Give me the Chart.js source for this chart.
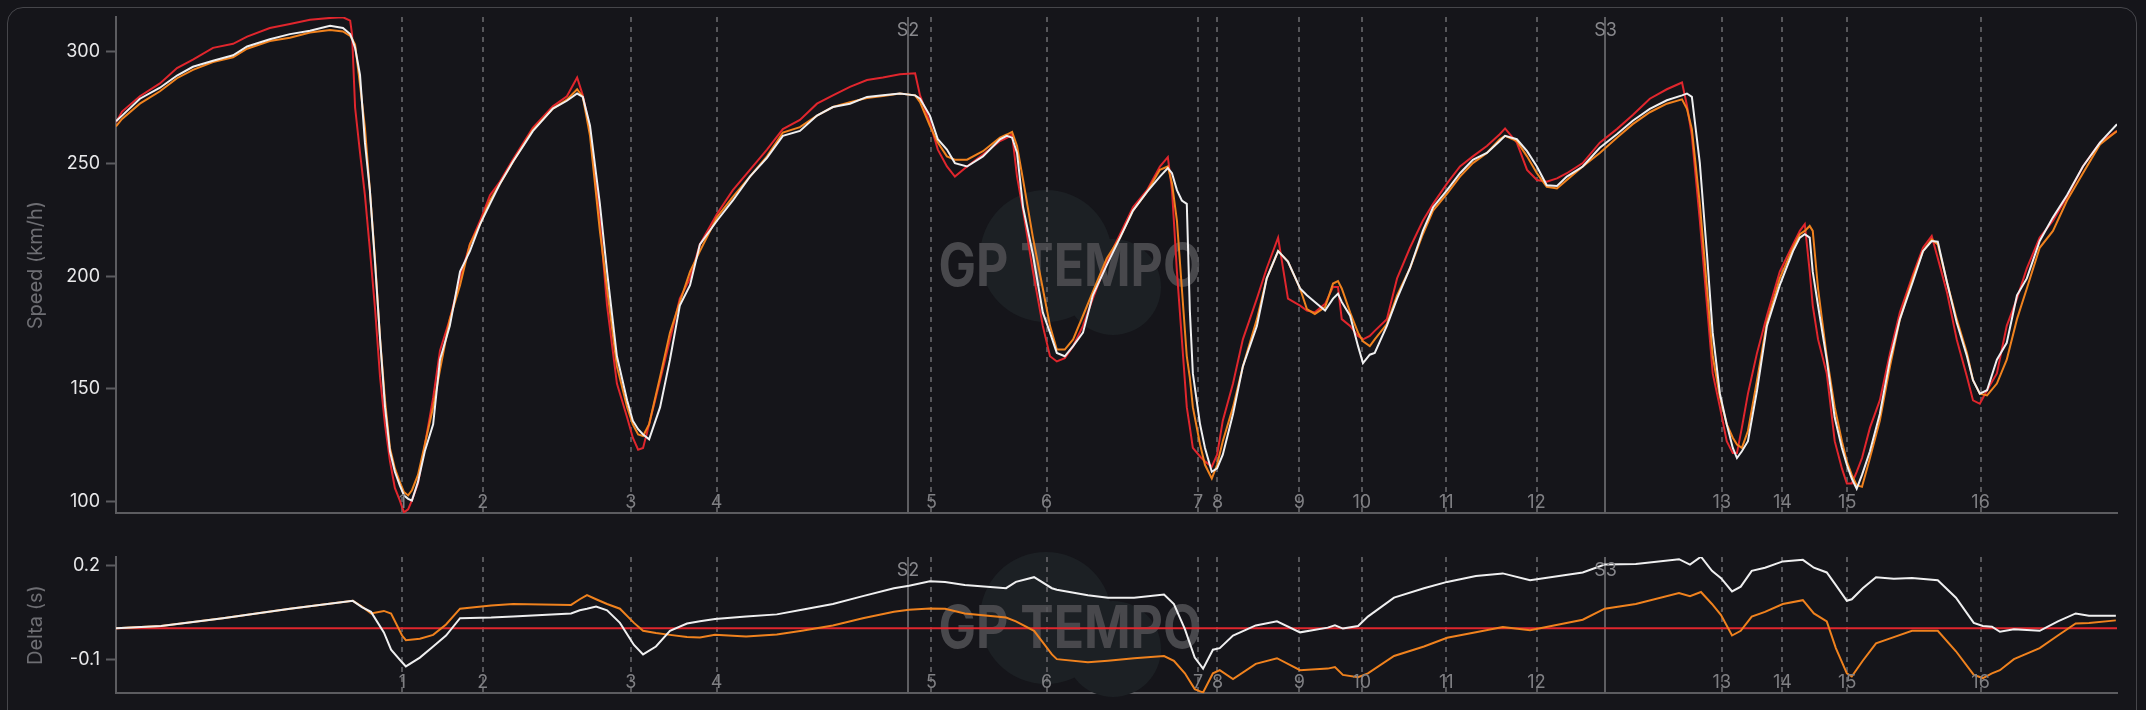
<!DOCTYPE html>
<html><head><meta charset="utf-8">
<script src="https://cdn.jsdelivr.net/npm/chart.js@4.4.1/dist/chart.umd.min.js"></script>
<style>
html,body{margin:0;padding:0;background:#15151a;}
#wrap{position:relative;width:2146px;height:710px;overflow:hidden;background:#15151a;}
#panel{position:absolute;left:7px;top:7px;width:2130px;height:760px;border:1px solid #46464b;border-radius:16px;box-sizing:border-box;}
#c1{position:absolute;left:0;top:0;}
#c2{position:absolute;left:0;top:540px;}
</style></head><body>
<div id="wrap"><div id="panel"></div>
<canvas id="c1" width="2146" height="530"></canvas>
<canvas id="c2" width="2146" height="170"></canvas>
</div>
<script>
const trackLength = 5281;
const speedDistance = [0,16,63,116,161,203,256,309,346,406,459,512,565,599,618,623,631,644,657,670,684,697,710,723,736,749,760,771,781,797,815,837,855,881,908,934,961,987,1013,1048,1100,1153,1190,1217,1232,1251,1277,1296,1322,1349,1364,1378,1391,1407,1436,1462,1488,1515,1541,1586,1628,1673,1718,1760,1805,1850,1892,1937,1982,2024,2069,2109,2122,2148,2169,2193,2214,2246,2288,2333,2351,2365,2378,2394,2420,2446,2465,2483,2504,2526,2552,2578,2615,2650,2684,2721,2755,2776,2787,2800,2813,2826,2834,2842,2861,2874,2892,2906,2921,2948,2974,3011,3037,3067,3093,3125,3143,3164,3191,3212,3225,3235,3257,3278,3291,3309,3322,3354,3381,3415,3449,3476,3513,3547,3581,3618,3652,3666,3697,3724,3750,3776,3803,3829,3871,3916,3961,4003,4048,4093,4133,4146,4159,4180,4199,4214,4233,4251,4267,4278,4291,4307,4331,4357,4391,4426,4444,4457,4470,4478,4492,4515,4536,4555,4568,4581,4594,4608,4629,4655,4682,4708,4742,4769,4792,4808,4832,4858,4885,4901,4919,4938,4964,4990,5017,5043,5077,5112,5149,5191,5236,5281];
const speedRed = [268.4,273.2,280.0,285.7,292.5,296.3,301.5,303.3,306.5,310.3,312.1,314.0,314.8,315.1,313.6,307.5,275.0,255.0,236.0,212.0,185.0,155.0,134.0,118.0,106.0,100.5,95.2,96.5,100.5,108.0,125.0,146.0,167.0,181.0,199.1,214.2,224.7,236.0,242.0,252.0,266.0,275.5,280.0,288.3,280.4,265.4,224.7,187.0,152.4,137.3,128.3,123.0,123.8,134.3,153.9,172.0,190.1,199.1,214.2,227.7,238.3,247.3,256.3,265.4,269.5,276.7,280.4,284.2,287.2,288.3,289.8,290.2,280.4,268.4,256.3,248.8,244.3,248.8,254.1,260.1,261.5,263.1,244.3,229.2,202.1,178.0,164.5,162.2,163.7,169.0,178.0,190.1,206.6,218.7,230.7,238.3,248.8,253.0,238.3,202.1,172.0,141.9,133.0,123.8,120.0,117.8,115.5,120.8,135.9,152.4,172.0,190.1,203.6,217.2,190.1,187.0,184.8,184.0,187.8,195.3,195.3,181.0,178.0,173.5,172.0,173.5,175.8,181.0,199.1,212.7,224.7,232.2,241.3,248.8,253.3,257.9,263.1,265.7,259.4,247.3,242.8,242.0,243.5,245.8,250.3,259.4,265.4,271.7,278.9,283.1,286.1,275.9,262.4,224.7,187.0,156.9,141.9,126.8,121.5,121.5,132.8,147.9,166.0,182.5,202.1,214.2,220.2,223.2,202.1,187.0,172.0,156.9,126.8,114.7,108.0,108.0,113.2,119.3,132.8,144.9,166.0,184.0,200.6,212.7,217.9,208.1,193.1,172.0,155.4,144.9,143.4,149.4,156.9,178.0,190.1,203.6,217.2,224.7,235.3,248.8,259.4,264.6];
const speedOrange = [266.6,269.9,276.7,282.2,288.0,291.7,295.2,297.3,301.1,304.5,306.0,308.3,309.4,308.8,306.8,305.5,303.0,285.0,266.0,238.3,206.6,172.0,144.9,123.8,114.7,108.7,104.2,102.7,105.0,111.8,125.3,141.9,158.4,181.0,196.1,214.2,223.2,233.7,241.0,251.0,265.0,274.5,278.5,283.1,279.7,262.4,220.2,194.6,160.0,141.9,134.3,129.8,129.1,134.3,155.4,175.0,188.6,202.1,211.2,226.2,235.3,244.3,253.3,263.9,266.3,271.4,275.2,277.4,279.2,280.1,281.2,280.4,277.4,266.9,259.4,253.3,251.8,251.8,255.6,261.6,263.0,264.2,257.9,242.8,217.2,194.6,178.0,167.5,167.5,172.0,182.5,193.1,208.1,217.2,229.2,237.5,247.3,248.8,241.3,224.7,194.6,164.5,155.0,141.9,125.3,116.3,110.2,116.3,126.8,141.9,160.0,181.0,199.1,211.2,206.6,194.6,185.5,183.3,186.3,196.8,197.9,194.6,184.0,175.0,171.2,169.0,172.0,178.8,191.6,203.6,218.7,229.2,236.8,244.3,250.3,254.8,260.9,262.4,260.1,253.3,245.8,239.8,239.0,242.8,248.8,254.8,261.6,267.6,272.9,276.7,278.6,274.4,265.4,232.2,194.6,164.5,146.4,134.3,128.3,125.3,123.8,131.3,153.9,179.5,199.1,212.7,218.7,220.2,222.4,220.2,194.6,164.5,141.9,126.8,117.8,111.8,107.2,106.5,119.3,135.9,160.0,181.0,199.1,211.2,216.4,214.2,197.6,181.0,166.0,153.9,147.9,147.1,152.4,163.0,181.0,194.6,212.7,220.2,233.7,245.8,258.6,264.6];
const speedWhite = [268.9,271.4,278.9,283.8,289.2,293.1,295.8,298.2,302.1,305.3,307.6,309.1,311.3,310.3,307.6,305.5,301.5,289.5,259.4,238.3,205.1,172.0,141.9,122.3,113.2,107.2,102.7,101.2,100.4,108.7,122.3,134.3,163.0,178.0,202.1,211.2,223.2,232.2,241.0,251.0,264.5,274.5,278.0,281.2,279.7,266.9,232.2,202.1,164.5,144.9,135.9,132.1,129.8,127.6,141.9,163.0,187.0,196.1,214.2,224.7,233.7,244.3,252.6,262.4,264.6,271.4,275.2,276.7,279.7,280.4,281.2,280.4,278.9,271.4,260.9,256.3,250.3,248.8,253.3,260.9,262.4,261.6,254.8,230.7,209.6,184.0,175.0,166.0,164.5,169.0,175.0,191.6,205.1,217.2,229.2,237.5,244.3,248.1,245.8,238.3,233.7,232.2,185.0,156.9,134.3,123.8,113.2,114.7,120.8,138.9,160.0,178.0,199.1,211.2,206.6,194.6,191.6,188.6,184.8,190.1,192.3,188.6,182.5,169.0,161.5,165.2,166.0,178.0,190.1,203.6,220.2,230.7,238.3,245.8,251.8,254.8,260.1,262.4,260.9,255.6,248.8,240.5,240.1,244.3,248.8,257.1,263.1,269.1,274.4,278.2,280.4,281.2,279.7,250.3,209.6,175.0,147.9,134.3,123.8,119.3,122.3,126.8,149.4,178.0,196.1,211.2,217.2,218.7,217.2,202.1,187.0,163.0,137.3,123.8,116.3,110.2,105.7,111.8,122.3,138.9,163.0,181.0,197.6,211.2,215.7,215.4,197.6,179.5,164.5,153.9,147.9,149.4,163.0,170.5,191.6,199.1,215.7,226.2,236.0,248.8,259.4,267.6];

const deltaDistance = [0,119,282,459,625,649,673,707,726,755,765,802,837,871,908,990,1048,1201,1224,1243,1267,1296,1330,1367,1391,1425,1462,1507,1541,1581,1663,1744,1810,1892,1971,2053,2093,2148,2188,2240,2349,2375,2423,2470,2483,2565,2618,2687,2766,2792,2821,2847,2869,2895,2913,2948,3008,3064,3125,3198,3217,3238,3278,3304,3373,3452,3513,3589,3660,3732,3871,3929,4011,4125,4154,4183,4212,4236,4265,4288,4317,4352,4399,4452,4481,4515,4539,4568,4581,4610,4645,4692,4740,4808,4856,4903,4927,4951,4972,5009,5077,5125,5172,5207,5278];
const deltaWhite = [0,0.007,0.032,0.062,0.087,0.067,0.052,-0.013,-0.068,-0.108,-0.121,-0.093,-0.058,-0.023,0.032,0.034,0.037,0.047,0.057,0.062,0.069,0.057,0.017,-0.053,-0.083,-0.058,-0.008,0.015,0.022,0.029,0.037,0.044,0.059,0.077,0.102,0.127,0.135,0.149,0.147,0.137,0.127,0.147,0.162,0.127,0.122,0.105,0.097,0.097,0.107,0.077,-0.003,-0.093,-0.128,-0.068,-0.063,-0.023,0.009,0.022,-0.013,0.002,0.009,-0.001,0.007,0.037,0.097,0.127,0.147,0.166,0.174,0.152,0.177,0.202,0.204,0.219,0.202,0.227,0.182,0.159,0.117,0.132,0.182,0.192,0.212,0.217,0.192,0.177,0.137,0.087,0.092,0.127,0.162,0.157,0.159,0.152,0.097,0.017,0.007,0.005,-0.011,-0.003,-0.008,0.022,0.047,0.040,0.040];
const deltaOrange = [0,0.007,0.032,0.062,0.087,0.069,0.047,0.055,0.047,-0.023,-0.038,-0.033,-0.021,0.012,0.062,0.072,0.077,0.074,0.092,0.105,0.092,0.077,0.062,0.017,-0.008,-0.015,-0.021,-0.028,-0.029,-0.021,-0.026,-0.020,-0.008,0.009,0.032,0.052,0.059,0.063,0.062,0.047,0.034,0.022,-0.008,-0.083,-0.098,-0.108,-0.103,-0.095,-0.088,-0.103,-0.143,-0.193,-0.204,-0.143,-0.133,-0.161,-0.113,-0.095,-0.133,-0.128,-0.123,-0.148,-0.155,-0.143,-0.088,-0.058,-0.030,-0.013,0.004,-0.006,0.027,0.062,0.077,0.112,0.102,0.115,0.077,0.042,-0.023,-0.008,0.037,0.052,0.077,0.089,0.047,0.022,-0.063,-0.143,-0.153,-0.103,-0.048,-0.028,-0.008,-0.008,-0.073,-0.148,-0.158,-0.143,-0.133,-0.098,-0.063,-0.023,0.015,0.017,0.025];
const referenceDistance = [0, 5281];
const referenceDelta = [0, 0];

const cornerNames = ['1','2','3','4','5','6','7','8','9','10','11','12','13','14','15','16'];
const cornerDistance = [756,968,1359,1585,2152,2456,2856,2907,3123,3288,3511,3749,4238,4398,4569,4921];
const sectorNames = ['S2','S3'];
const sectorDistance = [2090,3931];
const speedTicks = [100,150,200,250,300];
const deltaTicks = [-0.1,0.2];
const speedRange = [94.8, 315.2];
const deltaRange = [-0.206, 0.226];

const pts = (xs, ys) => xs.map((x, i) => ({x, y: ys[i]}));
const FONT = 'Inter, "Noto Sans", sans-serif';

const overlay = {
  id: 'overlay',
  beforeDatasetsDraw(chart) {
    const {ctx, chartArea: a, scales: {x}} = chart;
    ctx.save();
    const cx = chart.width / 2 - 3, cy = chart.height / 2 + (chart.options.plugins.overlay.dy || 0);
    ctx.fillStyle = '#1c2024';
    ctx.beginPath();
    ctx.arc(cx - 24, cy - 9, 66, 0, Math.PI * 2);
    ctx.moveTo(cx + 43 + 48, cy + 22);
    ctx.arc(cx + 43, cy + 22, 48, 0, Math.PI * 2);
    ctx.fill();
    ctx.font = 'bold 59px ' + FONT;
    ctx.fillStyle = '#48484c';
    ctx.textAlign = 'center';
    ctx.textBaseline = 'alphabetic';
    const w = ctx.measureText('GP TEMPO').width;
    ctx.save();
    ctx.translate(cx, cy);
    ctx.scale(263 / w, 1);
    ctx.fillText('GP TEMPO', 0, 21);
    ctx.restore();
    ctx.lineWidth = 2;
    ctx.strokeStyle = '#56565a';
    ctx.setLineDash([5, 5]);
    cornerDistance.forEach(d => {
      const px = Math.round(x.getPixelForValue(d));
      ctx.beginPath(); ctx.moveTo(px, a.top); ctx.lineTo(px, a.bottom); ctx.stroke();
    });
    ctx.setLineDash([]);
    ctx.strokeStyle = '#5e5e62';
    sectorDistance.forEach(d => {
      const px = Math.round(x.getPixelForValue(d));
      ctx.beginPath(); ctx.moveTo(px, a.top); ctx.lineTo(px, a.bottom); ctx.stroke();
    });
    ctx.restore();
  },
  afterDatasetsDraw(chart) {
    const {ctx, chartArea: a, scales: {x}} = chart;
    ctx.save();
    ctx.font = '18px ' + FONT;
    ctx.fillStyle = '#808084';
    ctx.textAlign = 'center';
    ctx.textBaseline = 'alphabetic';
    cornerNames.forEach((n, i) => {
      ctx.fillText(n, x.getPixelForValue(cornerDistance[i]), a.bottom - 5);
    });
    ctx.fillStyle = '#88888c';
    sectorNames.forEach((n, i) => {
      ctx.fillText(n, x.getPixelForValue(sectorDistance[i]), a.top + 19);
    });
    ctx.restore();
  }
};

function makeOptions(range, tickValues, title, dy) {
  return {
    responsive: false, animation: false, devicePixelRatio: 1,
    layout: {padding: {left: 0, right: 29, top: 17, bottom: 0}},
    plugins: {legend: {display: false}, tooltip: {enabled: false}, overlay: {dy}},
    elements: {point: {radius: 0}, line: {tension: 0, borderWidth: 2}},
    scales: {
      x: {type: 'linear', min: 0, max: trackLength,
        grid: {display: false, drawTicks: false}, ticks: {display: false},
        border: {display: true, color: '#5c5c60', width: 2},
        afterFit: s => { s.height = 9; }},
      y: {type: 'linear', min: range[0], max: range[1],
        grid: {display: true, drawOnChartArea: false, drawTicks: true, tickLength: 10, tickColor: '#5c5c60', tickWidth: 2},
        border: {display: true, color: '#5c5c60', width: 2},
        ticks: {color: '#e8e8ea', font: {family: FONT, size: 18}, padding: 6, includeBounds: false,
          callback: v => String(v)},
        afterBuildTicks: s => { s.ticks = tickValues.map(v => ({value: v})); },
        afterFit: s => { s.width = 116; },
        title: {display: true, text: title, color: '#6e6e73', font: {family: FONT, size: 20}, padding: {top: 24, bottom: 0}}
      }
    }
  };
}

new Chart(document.getElementById('c1'), {
  type: 'line',
  data: {datasets: [
    {data: pts(speedDistance, speedWhite), borderColor: '#efeff0'},
    {data: pts(speedDistance, speedOrange), borderColor: '#f0821e'},
    {data: pts(speedDistance, speedRed), borderColor: '#e0262d'}
  ]},
  options: makeOptions(speedRange, speedTicks, 'Speed (km/h)', 0),
  plugins: [overlay]
});

new Chart(document.getElementById('c2'), {
  type: 'line',
  data: {datasets: [
    {data: pts(deltaDistance, deltaWhite), borderColor: '#efeff0'},
    {data: pts(deltaDistance, deltaOrange), borderColor: '#f0821e'},
    {data: pts(referenceDistance, referenceDelta), borderColor: '#e0262d'}
  ]},
  options: makeOptions(deltaRange, deltaTicks, 'Delta (s)', 2),
  plugins: [overlay]
});
</script>
</body></html>
